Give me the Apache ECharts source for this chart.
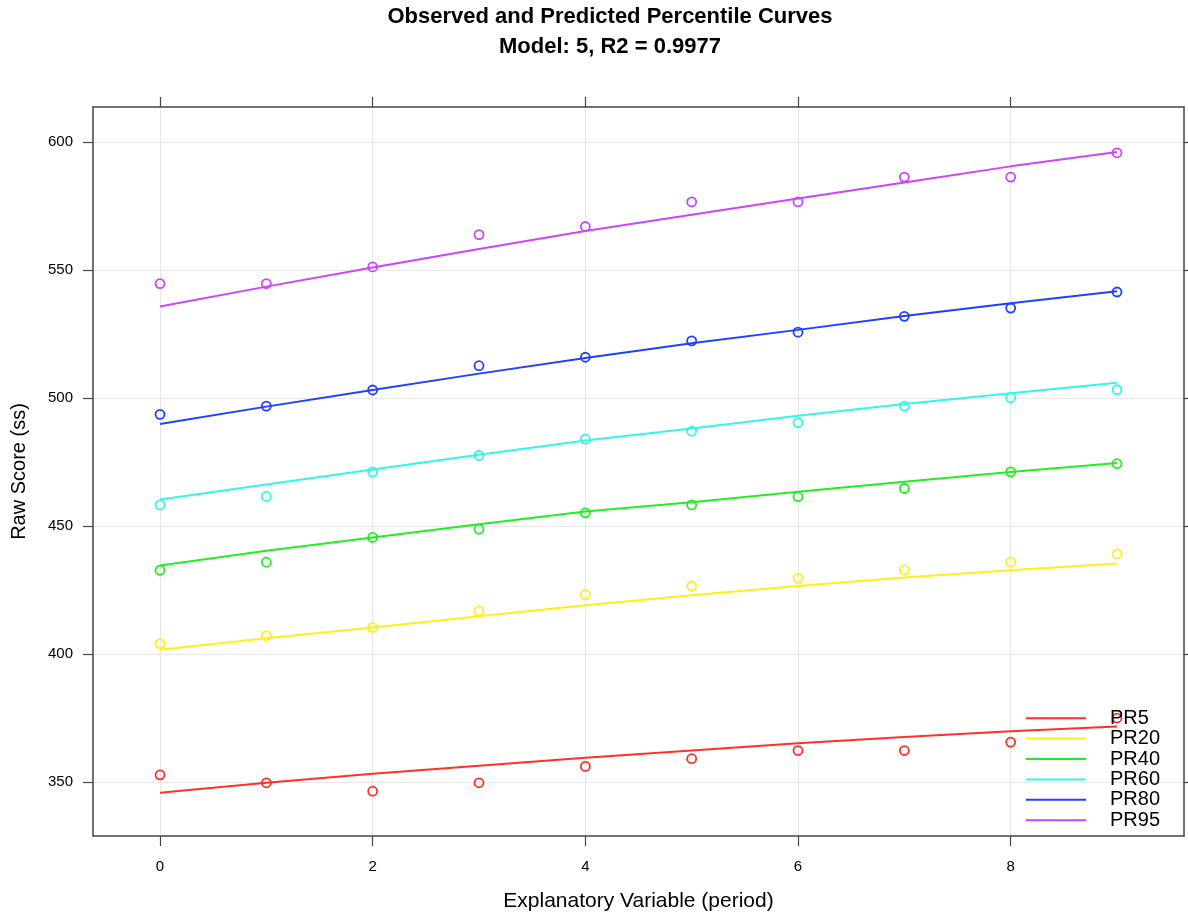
<!DOCTYPE html>
<html>
<head>
<meta charset="utf-8">
<title>Observed and Predicted Percentile Curves</title>
<script src="https://cdn.jsdelivr.net/npm/echarts@6/dist/echarts.min.js"></script>
<style>
  html, body { margin: 0; padding: 0; background: #fff; }
  #chart { width: 1188px; height: 913px; }
</style>
</head>
<body>
<div id="chart"></div>
<script>
// ---- data ----
var periods = [0, 1, 2, 3, 4, 5, 6, 7, 8, 9];
var groupNames = ['PR5', 'PR20', 'PR40', 'PR60', 'PR80', 'PR95'];
var groupColors = ['#FF3028', '#FFEE1A', '#22EE22', '#33F5E8', '#2040FF', '#CC44FF'];

// observed points
var obsPR5  = [352.7, 349.6, 346.3, 349.6, 356.0, 359.0, 362.2, 362.2, 365.5, 374.9];
var obsPR20 = [404.0, 407.1, 410.3, 416.8, 423.2, 426.4, 429.5, 432.8, 435.9, 439.0];
var obsPR40 = [432.7, 435.8, 445.5, 448.7, 455.1, 458.2, 461.4, 464.6, 471.1, 474.3];
var obsPR60 = [458.2, 461.5, 471.1, 477.5, 483.9, 487.0, 490.3, 496.8, 500.1, 503.2];
var obsPR80 = [493.6, 496.8, 503.1, 512.6, 515.9, 522.3, 525.7, 531.9, 535.1, 541.4];
var obsPR95 = [544.7, 544.7, 551.2, 563.8, 567.0, 576.6, 576.6, 586.3, 586.3, 595.8];

// predicted curves
var predPR5  = [345.7, 349.6, 353.1, 356.3, 359.4, 362.2, 365.0, 367.5, 369.7, 371.6];
var predPR20 = [401.6, 406.1, 410.3, 414.7, 419.0, 422.9, 426.5, 429.8, 432.7, 435.3];
var predPR40 = [434.5, 440.3, 445.5, 450.6, 455.6, 459.2, 463.3, 467.2, 471.1, 474.6];
var predPR60 = [460.3, 466.2, 472.0, 477.8, 483.4, 488.1, 493.0, 497.6, 501.8, 505.9];
var predPR80 = [489.8, 496.6, 503.1, 509.5, 515.6, 521.4, 526.6, 532.0, 537.0, 541.7];
var predPR95 = [535.7, 543.5, 551.0, 558.2, 565.2, 571.6, 577.9, 584.2, 590.5, 596.1];

var xTicks = [0, 2, 4, 6, 8];
var yTicks = [350, 400, 450, 500, 550, 600];

var observed = [obsPR5, obsPR20, obsPR40, obsPR60, obsPR80, obsPR95];
var predicted = [predPR5, predPR20, predPR40, predPR60, predPR80, predPR95];

// ---- build chart ----
var chart = echarts.init(document.getElementById('chart'));
var frameColor = '#444';
var gridColor = '#E8E8E8';

function pairs(vals) {
  return periods.map(function (p, i) { return [p, vals[i]]; });
}

var series = [];
groupNames.forEach(function (name, i) {
  // fitted curve
  series.push({
    name: name,
    type: 'line',
    data: pairs(predicted[i]),
    showSymbol: false,
    color: groupColors[i],
    lineStyle: { width: 2, color: groupColors[i] },
    z: 2
  });
  // observed values, hollow circles
  series.push({
    name: name,
    type: 'scatter',
    data: pairs(observed[i]),
    symbol: 'circle',
    symbolSize: 9,
    itemStyle: { color: 'rgba(255,255,255,0)', borderColor: groupColors[i], borderWidth: 1.8, opacity: 1 },
    z: 3
  });
});

var xBase = {
  type: 'value', min: -0.63, max: 9.63,
  axisLine: { show: true, onZero: false, lineStyle: { color: frameColor, width: 1.5 } },
  axisTick: { show: true, length: 10, customValues: xTicks, lineStyle: { color: frameColor, width: 1.2 } }
};
var yBase = {
  type: 'value', min: 328.8, max: 613.7,
  axisLine: { show: true, onZero: false, lineStyle: { color: frameColor, width: 1.5 } },
  axisTick: { show: true, length: 10, customValues: yTicks, lineStyle: { color: frameColor, width: 1.2 } }
};

var option = {
  animation: false,
  backgroundColor: '#fff',
  title: {
    text: 'Observed and Predicted Percentile Curves\nModel: 5, R2 = 0.9977',
    left: 610, top: 2, textAlign: 'center', padding: 0,
    textStyle: { fontFamily: 'Liberation Sans', fontSize: 22, fontWeight: 'bold', color: '#000', lineHeight: 30 }
  },
  grid: { left: 93, right: 4, top: 107, bottom: 77, containLabel: false, outerBoundsMode: 'none' },
  legend: {
    orient: 'vertical', left: 1026, top: 708, padding: 0,
    itemWidth: 60, itemHeight: 2, itemGap: 0,
    icon: 'rect',
    data: groupNames.map(function (n, i) { return { name: n, itemStyle: { color: groupColors[i] } }; }),
    textStyle: { fontFamily: 'Liberation Sans', fontSize: 20, color: '#000', lineHeight: 20.4, padding: [0, 0, 0, 19] },
    selectedMode: false
  },
  xAxis: [
    Object.assign({}, xBase, {
      position: 'bottom',
      name: 'Explanatory Variable (period)', nameLocation: 'middle', nameGap: 55,
      nameTextStyle: { fontFamily: 'Liberation Sans', fontSize: 21, color: '#000' },
      axisLabel: { customValues: xTicks, margin: 23, fontFamily: 'Liberation Sans', fontSize: 15, color: '#000' },
      splitLine: { show: true, lineStyle: { color: gridColor, width: 1 } }
    }),
    Object.assign({}, xBase, {
      position: 'top',
      axisLabel: { show: false },
      splitLine: { show: false }
    })
  ],
  yAxis: [
    Object.assign({}, yBase, {
      position: 'left',
      name: 'Raw Score (ss)', nameLocation: 'middle', nameGap: 64,
      nameTextStyle: { fontFamily: 'Liberation Sans', fontSize: 20, color: '#000' },
      axisLabel: { customValues: yTicks, margin: 20, fontFamily: 'Liberation Sans', fontSize: 15, color: '#000' },
      splitLine: { show: true, lineStyle: { color: gridColor, width: 1 } }
    }),
    Object.assign({}, yBase, {
      position: 'right',
      axisLabel: { show: false },
      splitLine: { show: false }
    })
  ],
  series: series
};

chart.setOption(option);
</script>
</body>
</html>
